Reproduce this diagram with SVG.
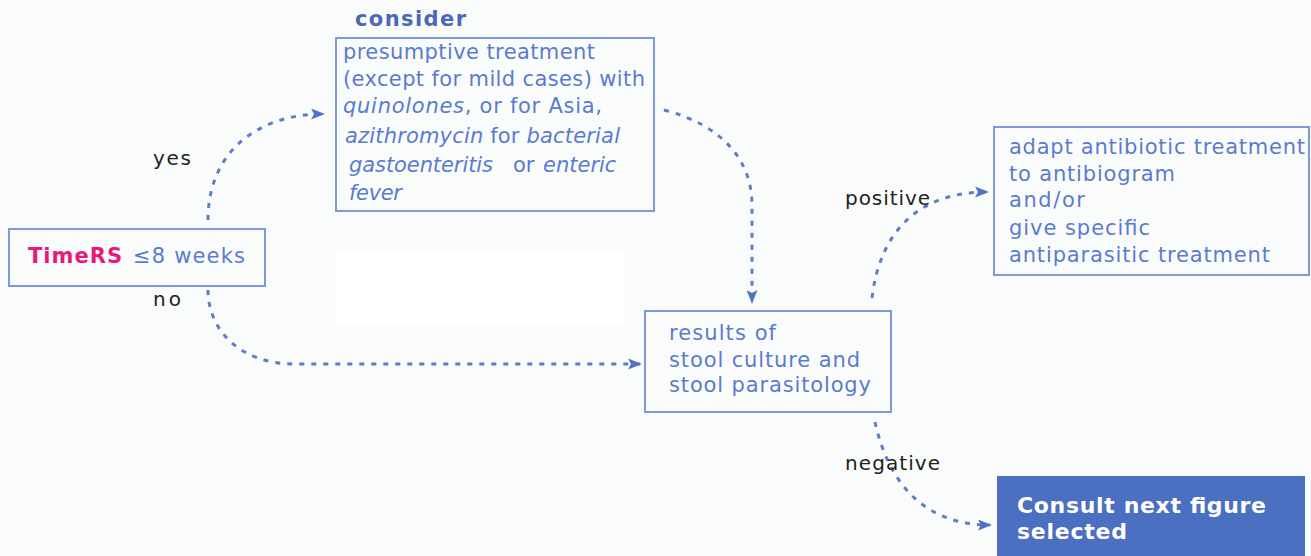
<svg xmlns="http://www.w3.org/2000/svg" width="1311" height="556" viewBox="0 0 1311 556">
<style>
.box{fill:none;stroke:#7d98dc;stroke-width:2}
.t{font-family:"DejaVu Sans",Verdana,sans-serif;font-size:21px;fill:#5b7bd0}
.i{font-style:italic}
.lbl{font-family:"DejaVu Sans",Tahoma,sans-serif;font-size:20px;fill:#222}
.c{fill:none;stroke:#5d7dc6;stroke-width:3;stroke-dasharray:5 7}
.w{font-family:"DejaVu Sans",Verdana,sans-serif;font-size:22px;font-weight:bold;fill:#ffffff}
</style>
<defs>
<marker id="ah" markerWidth="14" markerHeight="11" refX="12" refY="5.5" orient="auto" markerUnits="userSpaceOnUse">
<path d="M0,0 L14,5.5 L0,11 L3,5.5 Z" fill="#4f72c4"/>
</marker>
</defs>
<rect width="1311" height="556" fill="#fafcfb"/>
<rect x="335" y="250" width="290" height="75" fill="#ffffff"/>
<g id="connectors">
<path class="c" d="M208,220 C208,150 260,114 323,114" marker-end="url(#ah)"/>
<path class="c" d="M664,110 C722,125 752,160 752,205 L752,302" marker-end="url(#ah)"/>
<path class="c" d="M208,290 C208,330 240,364 295,364 L640,364" marker-end="url(#ah)"/>
<path class="c" d="M872,298 C880,230 920,192 987,192" marker-end="url(#ah)"/>
<path class="c" d="M875,422 C890,490 930,525 990,525" marker-end="url(#ah)"/>
</g>
<g id="labels">
<text class="lbl" x="153" y="165" textLength="38">yes</text>
<text class="lbl" x="153" y="306" textLength="28">no</text>
<text class="lbl" x="845" y="205" textLength="85">positive</text>
<text class="lbl" x="845" y="470" textLength="95">negative</text>
</g>
<g id="consider">
<text x="355" y="26" textLength="111" style="font-family:'DejaVu Sans',Verdana,sans-serif;font-size:21px;font-weight:bold;fill:#4a68b8">consider</text>
<rect class="box" x="336" y="38" width="318" height="173"/>
<text class="t" x="343" y="59" textLength="252">presumptive treatment</text>
<text class="t" x="343" y="86" textLength="302">(except for mild cases) with</text>
<text class="t" x="343" y="113" textLength="259"><tspan class="i">quinolones</tspan>, or for Asia,</text>
<text class="t" x="345" y="143" textLength="275"><tspan class="i">azithromycin</tspan> for <tspan class="i">bacterial</tspan></text>
<text class="t" y="172"><tspan class="i" x="349" textLength="144">gastoenteritis</tspan><tspan x="513">or </tspan><tspan class="i" x="543">enteric</tspan></text>
<text class="t i" x="349" y="200" textLength="53">fever</text>
</g>
<g id="timers">
<rect class="box" x="9" y="229" width="256" height="57"/>
<text class="t" x="28" y="263" style="fill:#e8197a;font-weight:bold" textLength="94">TimeRS</text>
<text class="t" x="133" y="263" textLength="112">≤8 weeks</text>
</g>
<g id="results">
<rect class="box" x="645" y="311" width="246" height="101"/>
<text class="t" x="669" y="340" textLength="107">results of</text>
<text class="t" x="669" y="367" textLength="191">stool culture and</text>
<text class="t" x="669" y="392" textLength="202">stool parasitology</text>
</g>
<g id="adapt">
<rect class="box" x="994" y="127" width="315" height="148"/>
<text class="t" x="1009" y="154" textLength="296">adapt antibiotic treatment</text>
<text class="t" x="1009" y="181" textLength="166">to antibiogram</text>
<text class="t" x="1009" y="207" textLength="76">and/or</text>
<text class="t" x="1009" y="235" textLength="141">give specific</text>
<text class="t" x="1009" y="262" textLength="261">antiparasitic treatment</text>
</g>
<g id="consult">
<rect x="997" y="476" width="308" height="80" fill="#4b6fc1"/>
<text class="w" x="1017" y="513" textLength="249">Consult next figure</text>
<text class="w" x="1017" y="539" textLength="110">selected</text>
</g>
</svg>
